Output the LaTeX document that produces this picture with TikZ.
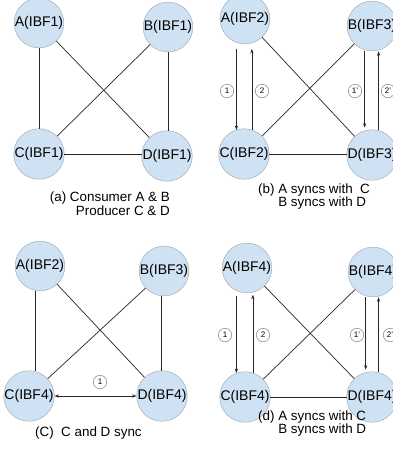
\documentclass[tikz,border=0pt]{standalone}
\usepackage{fontspec}
\setmainfont{Liberation Sans}
\usetikzlibrary{calc,arrows.meta}
\definecolor{nodefill}{HTML}{CFE2F3}
\definecolor{nodeline}{HTML}{9AA3AB}
\begin{document}
\begin{tikzpicture}[x=1pt,y=-1pt,
  peer/.style={circle,draw=nodeline,fill=nodefill,minimum size=48pt,inner sep=0pt,
    font=\fontsize{14}{14}\selectfont},
  link/.style={draw=black!85,line width=0.7pt},
  sync/.style={link,-{Stealth[length=4.5pt,width=3.2pt]}},
  both/.style={link,{Stealth[length=4.5pt,width=3.2pt]}-{Stealth[length=4.5pt,width=3.2pt]}},
  tag/.style={circle,draw=black!55,fill=white,minimum size=13.5pt,inner sep=0pt,
    font=\fontsize{8}{8}\selectfont},
  caption/.style={font=\fontsize{13.4}{12.5}\selectfont,inner sep=0pt}]
\useasboundingbox (0,0) rectangle (393,456);

% ---------- panel (a)
\node[peer] (aA) at (39,23)  {A(IBF1)};
\node[peer] (aB) at (168,27) {B(IBF1)};
\node[peer] (aC) at (39,154) {C(IBF1)};
\node[peer] (aD) at (167,156) {D(IBF1)};
\draw[link] (aA) -- (aC);
\draw[link] (aA) -- (aD);
\draw[link] (aB) -- (aC);
\draw[link] (aB.-90) -- (aB.-90 |- aD.north);
\draw[link] (aC.east) -- (aC.east -| aD.west);
\node[caption,align=right,anchor=north east,font=\fontsize{13.4}{14}\selectfont] (capa) at (170,192)
  {(a) Consumer A \& B\\Producer C \& D};

% ---------- panel (b)
\node[peer] (bA) at (245,19)  {A(IBF2)};
\node[peer] (bB) at (372,26)  {B(IBF3)};
\node[peer] (bC) at (244,154) {C(IBF2)};
\node[peer] (bD) at (372,155) {D(IBF3)};
\draw[link] (bA) -- (bD);
\draw[link] (bB) -- (bC);
\draw[link] (bC.east) -- (bC.east -| bD.west);
\draw[sync,shorten <=6pt] (bA.-110) -- (bA.-110 |- bC.110);
\draw[sync,shorten >=6pt] (bC.72) -- (bC.72 |- bA.-72);
\draw[sync,shorten <=1pt,shorten >=3pt] (bB.-107) -- (bB.-107 |- bD.107);
\draw[sync,shorten >=1pt] (bD.75) -- (bD.75 |- bB.-75);
\node[tag] (b1)  at (227,91) {1};
\node[tag] (b2)  at (262,91) {2};
\node[tag] (b1p) at (355,91) {1'};
\node[tag] (b2p) at (388,91) {2'};
\node[caption,align=left,anchor=north west] (capb) at (258,184)
  {(b) A syncs with \ C\\\phantom{(b) }B syncs with D};

% ---------- panel (c)
\node[peer] (cA) at (40,266)  {A(IBF2)};
\node[peer] (cB) at (164,271) {B(IBF3)};
\node[peer] (cC) at (29,396)  {C(IBF4)};
\node[peer] (cD) at (162,396) {D(IBF4)};
\draw[link] (cA.-100) -- (cA.-100 |- cC.north);
\draw[link] (cA) -- (cD);
\draw[link] (cB) -- (cC);
\draw[link] (cB.-95) -- (cB.-95 |- cD.north);
\draw[both] (cC.east) -- (cC.east -| cD.west);
\node[tag] (c1) at (100,382) {1};
\node[caption,anchor=west] (capc) at (35,433) {(C) \ C and D sync};

% ---------- panel (d)
\node[peer] (dA) at (247,268) {A(IBF4)};
\node[peer] (dB) at (373,272) {B(IBF4)};
\node[peer] (dC) at (245,397) {C(IBF4)};
\node[peer] (dD) at (372,397) {D(IBF4)};
\draw[link] (dA) -- (dD);
\draw[link] (dB) -- (dC);
\draw[link] (dC.east) -- (dC.east -| dD.west);
\draw[sync,shorten <=5pt] (dA.-115) -- (dA.-115 |- dC.110);
\draw[sync,shorten >=5pt] (dC.72) -- (dC.72 |- dA.-60);
\draw[sync,shorten <=1pt,shorten >=3pt] (dB.-107) -- (dB.-107 |- dD.107);
\draw[sync,shorten >=1pt] (dD.75) -- (dD.75 |- dB.-75);
\node[tag] (d1)  at (225,335) {1};
\node[tag] (d2)  at (263,335) {2};
\node[tag] (d1p) at (357,335) {1'};
\node[tag] (d2p) at (390,335) {2'};
\node[caption,align=left,anchor=north west] (capd) at (258,411)
  {(d) A syncs with C\\\phantom{(d) }B syncs with D};
\end{tikzpicture}
\end{document}
